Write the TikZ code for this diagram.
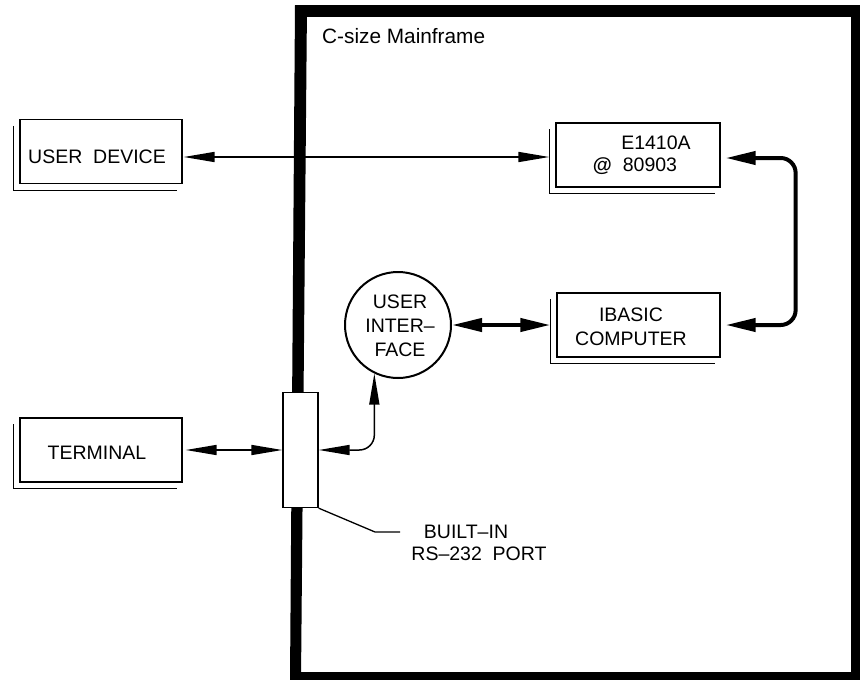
\documentclass[tikz,border=0pt]{standalone}
\usepackage{fontspec}
\setmainfont{Liberation Sans}
\usetikzlibrary{arrows.meta,calc}
\tikzset{
  boxnode/.style={draw, line width=1.3pt, minimum width=162pt, minimum height=64pt, inner sep=0pt},
  lbl/.style={font=\fontsize{19.5}{24}\selectfont, inner sep=0pt, align=center},
  thinarrow/.style={line width=1.5pt, {Triangle[length=31pt,width=10pt]}-{Triangle[length=31pt,width=10pt]}},
  thickarrow/.style={line width=4pt, {Triangle[length=30pt,width=13pt]}-{Triangle[length=30pt,width=13pt]}},
  shadowline/.style={line width=1.3pt},
  leader/.style={line width=1.3pt}
}
\newcommand\boxshadow[1]{\draw[shadowline] ([shift={(-6,7)}]#1.north west) |- ([shift={(-6,6)}]#1.south east);}
\begin{document}
\begin{tikzpicture}[x=1pt,y=-1pt]
\useasboundingbox (0,0) rectangle (860,680);
% mainframe frame
\fill[black] (295,5) rectangle (860,17);
\fill[black] (851,5) rectangle (860,680);
\fill[black] (290,672) rectangle (860,680);
\fill[black] (295,5) -- (307,5) -- (301,680) -- (290,680) -- cycle;
\node[font=\fontsize{20.8}{24}\selectfont, anchor=west, inner sep=0pt] (title) at (322,36) {C-size Mainframe};

% boxes
\node[boxnode] (ud) at (101,151.5) {};
\boxshadow{ud}
\node[lbl] (udt) at (97,157) {USER\ \ DEVICE};

\node[boxnode, minimum width=164pt] (e14) at (638,155) {};
\boxshadow{e14}
\node[lbl] (e14a) at (656,143) {E1410A};
\node[lbl] (e14b) at (635,166) {\textbf{@}\ \ 80903};

\node[boxnode, minimum width=163pt] (ib) at (638.5,325) {};
\boxshadow{ib}
\node[lbl] (ibt) at (631,327) {IBASIC\\COMPUTER};

\node[boxnode] (term) at (101,450) {};
\boxshadow{term}
\node[lbl] (termt) at (97,453) {TERMINAL};

\node[draw, circle, line width=2pt, minimum size=106pt, inner sep=0pt] (ui) at (398,325) {};
\node[lbl] (uit) at (400,326) {USER\\INTER–\\FACE};

\node[draw, fill=white, line width=1.3pt, minimum width=35pt, minimum height=115pt, inner sep=0pt] (port) at (300.5,450) {};

% connectors
\coordinate (r1) at (0,157);
\draw[thinarrow] ($(ud.east |- r1)+(1,0)$) -- ($(e14.west |- r1)+(-6,0)$);
\draw[thickarrow, rounded corners=15pt] ($(e14.east)+(5,3)$) -| ($(ib.east)+(75,0)$) -- ($(ib.east)+(5,0)$);
\draw[thickarrow] (ui.east) -- ($(ib.west)+(-6,0)$);
\draw[thinarrow] ($(term.east)+(3,0)$) -- (port.west);
\draw[thinarrow, rounded corners=15pt] (port.east) -| (ui.-116);

% leader to label
\coordinate (bend) at (375,532);
\coordinate (leadend) at (400,532);
\draw[leader] (port.south east) -- (bend) -- (leadend);
\node[lbl] (bi) at (466,532) {BUILT–IN};
\node[lbl] (rs) at (479,554) {RS–232\ \ PORT};
\end{tikzpicture}
\end{document}
